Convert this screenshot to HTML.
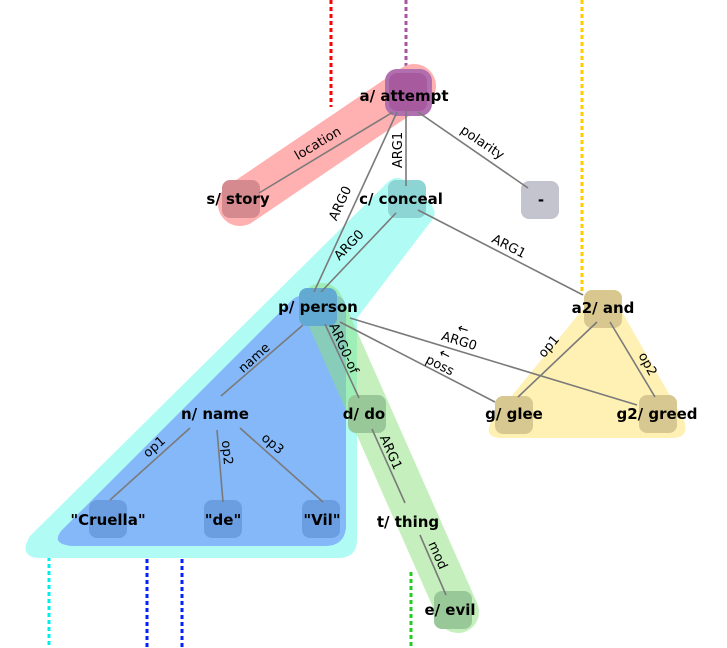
<!DOCTYPE html>
<html><head><meta charset="utf-8"><style>
html,body{margin:0;padding:0;background:#fff;width:727px;height:648px;overflow:hidden}
svg text{font-family:"DejaVu Sans","Liberation Sans",sans-serif}
.n{font-weight:bold;font-size:15px;text-anchor:middle;dominant-baseline:central;fill:#000}
.l{font-size:13px;text-anchor:middle;fill:#000}
.e{stroke:#7a7a7a;stroke-width:1.6;fill:none}
</style></head><body>
<svg width="727" height="648" viewBox="0 0 727 648" xmlns="http://www.w3.org/2000/svg">
<!-- dashed lines -->
<g stroke-width="3" stroke-dasharray="4,3" fill="none">
<line x1="331" y1="0" x2="331" y2="107" stroke="#ff0000"/>
<line x1="406" y1="0" x2="406" y2="72" stroke="#a855a0"/>
<line x1="582" y1="0" x2="582" y2="295" stroke="#ffcc00"/>
<line x1="49" y1="557" x2="49" y2="648" stroke="#00eeee"/>
<line x1="147" y1="545" x2="147" y2="648" stroke="#0022ff"/>
<line x1="182" y1="545" x2="182" y2="648" stroke="#0022ff"/>
<line x1="411" y1="572" x2="411" y2="648" stroke="#22cc22"/>
</g>
<!-- highlights -->
<line x1="240" y1="204" x2="414" y2="86" stroke="#ffb0b0" stroke-width="44" stroke-linecap="round"/>
<path d="M30,536 L388,182 Q397,174 407,182 L430,203 Q438,212 432,220 L357,318 L357,540 Q357,558 338,558 L38,558 Q18,556 30,536 Z" fill="#b0fcf4"/>
<path d="M62,530 L290,302 Q296,295 306,295 L332,295 Q346,295 346,310 L346,528 Q344,546 325,546 L72,546 Q50,544 62,530 Z" fill="#84b8f8"/>
<line x1="322" y1="304" x2="458" y2="612" stroke="#8ce07c" stroke-opacity=".5" stroke-width="42" stroke-linecap="round"/>
<path d="M592,298 Q603,284 614,298 L684,420 Q690,438 672,438 L502,438 Q482,438 492,420 Z" fill="#fff0b4"/>
<!-- node boxes -->
<rect fill="#d48a8f" x="222" y="180" width="38" height="38" rx="8"/>
<rect fill="#8dd4d4" x="388" y="180" width="38" height="38" rx="8"/>
<rect fill="#c4c4ce" x="521" y="181" width="38" height="38" rx="8"/>
<rect fill="#62aad2" x="299" y="288" width="38" height="38" rx="8"/>
<rect fill="#d8c890" x="584" y="290" width="38" height="38" rx="8"/>
<rect fill="#98c898" x="348" y="395" width="38" height="38" rx="8"/>
<rect fill="#d6c890" x="495" y="396" width="38" height="38" rx="8"/>
<rect fill="#d6c890" x="639" y="395" width="38" height="38" rx="8"/>
<rect fill="#6a9ee0" x="89" y="500" width="38" height="38" rx="8"/>
<rect fill="#6a9ee0" x="204" y="500" width="38" height="38" rx="8"/>
<rect fill="#6a9ee0" x="302" y="500" width="38" height="38" rx="8"/>
<rect fill="#98c898" x="434" y="591" width="38" height="38" rx="8"/>
<rect fill="#b070b0" x="385" y="69" width="47" height="47" rx="12"/>
<rect fill="#a85a9e" x="389" y="73" width="38" height="38" rx="8"/>
<!-- edges -->
<line class="e" x1="393" y1="112" x2="259" y2="193"/>
<line class="e" x1="406" y1="110" x2="406" y2="186"/>
<line class="e" x1="418" y1="112" x2="528" y2="188"/>
<line class="e" x1="397" y1="112" x2="314" y2="292"/>
<line class="e" x1="396" y1="213" x2="321" y2="292"/>
<line class="e" x1="418" y1="210" x2="583" y2="295"/>
<line class="e" x1="340" y1="322" x2="495" y2="402"/>
<line class="e" x1="350" y1="318" x2="637" y2="405"/>
<line class="e" x1="303" y1="325" x2="221" y2="396"/>
<line class="e" x1="325" y1="324" x2="359" y2="398"/>
<line class="e" x1="372" y1="429" x2="405" y2="503"/>
<line class="e" x1="420" y1="535" x2="446" y2="595"/>
<line class="e" x1="190" y1="428" x2="110" y2="500"/>
<line class="e" x1="217" y1="430" x2="223" y2="502"/>
<line class="e" x1="240" y1="428" x2="323" y2="502"/>
<line class="e" x1="597" y1="322" x2="518" y2="397"/>
<line class="e" x1="610" y1="322" x2="655" y2="397"/>
<!-- edge labels -->
<text class="l" transform="translate(320,147) rotate(-31)">location</text>
<text class="l" transform="translate(402,150) rotate(-90)">ARG1</text>
<text class="l" transform="translate(480,146) rotate(34)">polarity</text>
<text class="l" transform="translate(344,205) rotate(-65)">ARG0</text>
<text class="l" transform="translate(352,248) rotate(-46)">ARG0</text>
<text class="l" transform="translate(507,250) rotate(27)">ARG1</text>
<text class="l" transform="translate(458,345) rotate(17)">ARG0</text>
<text class="l" transform="translate(438,369) rotate(27)">poss</text>
<text class="l" transform="translate(462,333) rotate(17)" font-size="14">←</text>
<text class="l" transform="translate(443,358) rotate(27)" font-size="14">←</text>
<text class="l" transform="translate(257,361) rotate(-42)">name</text>
<text class="l" transform="translate(340,350) rotate(66)">ARG0-of</text>
<text class="l" transform="translate(387,454) rotate(66)">ARG1</text>
<text class="l" transform="translate(434,557) rotate(66)">mod</text>
<text class="l" transform="translate(157,450) rotate(-42)">op1</text>
<text class="l" transform="translate(223,453) rotate(85)">op2</text>
<text class="l" transform="translate(270,447) rotate(40)">op3</text>
<text class="l" transform="translate(552,349) rotate(-50)">op1</text>
<text class="l" transform="translate(644,366) rotate(62)">op2</text>
<!-- node labels -->
<text class="n" x="404" y="96">a/ attempt</text>
<text class="n" x="238" y="199">s/ story</text>
<text class="n" x="401" y="199">c/ conceal</text>
<text class="n" x="541" y="200">-</text>
<text class="n" x="318" y="307">p/ person</text>
<text class="n" x="603" y="308">a2/ and</text>
<text class="n" x="215" y="414">n/ name</text>
<text class="n" x="364" y="414">d/ do</text>
<text class="n" x="514" y="414">g/ glee</text>
<text class="n" x="657" y="414">g2/ greed</text>
<text class="n" x="108" y="520">"Cruella"</text>
<text class="n" x="223" y="520">"de"</text>
<text class="n" x="322" y="520">"Vil"</text>
<text class="n" x="408" y="522">t/ thing</text>
<text class="n" x="450" y="610">e/ evil</text>
</svg>
</body></html>
